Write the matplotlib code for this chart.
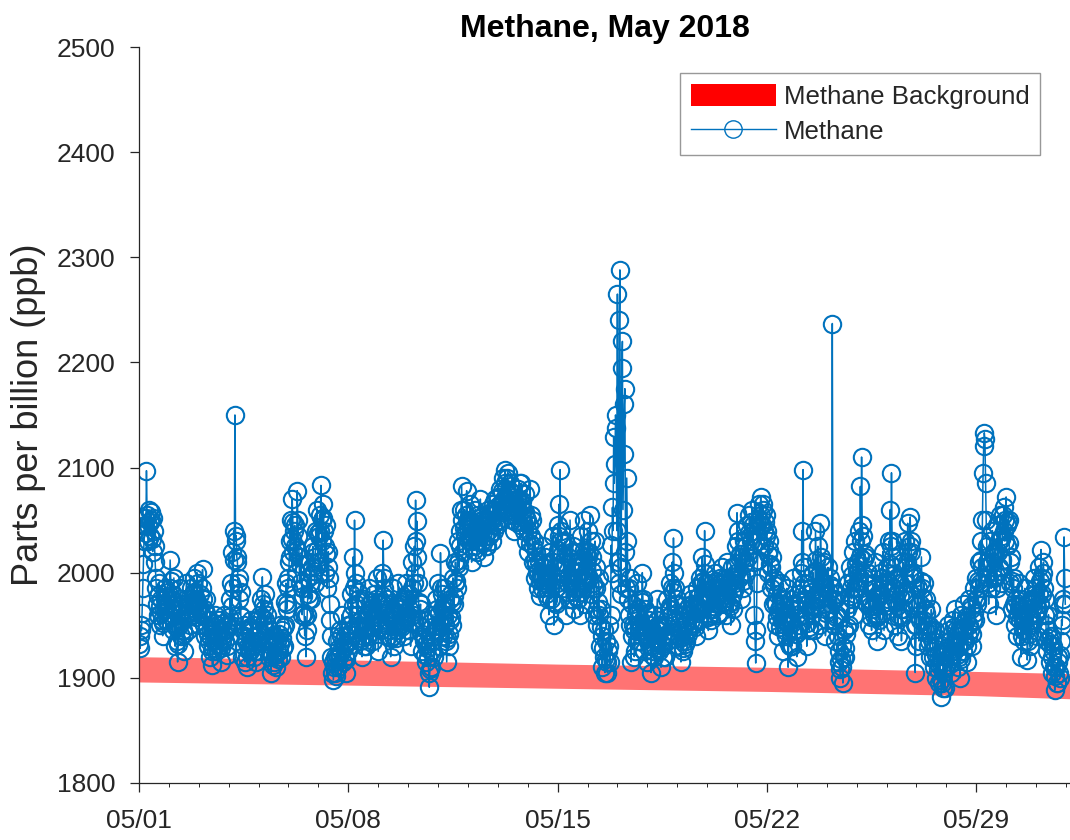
import numpy as np
import pandas as pd
import matplotlib
matplotlib.use("Agg")
import matplotlib.pyplot as plt
import matplotlib.dates as mdates
from matplotlib.patches import Patch
from matplotlib.lines import Line2D

plt.rcParams['font.family'] = ['Liberation Sans', 'DejaVu Sans']

# Half-hourly methane (ppb), one row per day of May 2018 starting at 00:00
may01 = [1932, 1940, 1928, 1950, 1945, 1962, 1985, 2008, 2030, 2045, 2052, 2038, 2097, 2055, 2045, 2030, 2060, 2048, 2035, 2058, 2050, 2032, 2020, 2052, 2040, 2025, 2010, 1995, 1985, 1970, 1960, 1978, 1990, 1968, 1950, 1962, 1975, 1955, 1940, 1952, 1965, 1975, 1985, 1968, 1955, 1978, 1970, 1982]
may02 = [1960, 1985, 2012, 1992, 1975, 1958, 1945, 1970, 1995, 1952, 1930, 1948, 1965, 1935, 1915, 1932, 1950, 1968, 1985, 1962, 1940, 1955, 1970, 1945, 1925, 1942, 1960, 1975, 1990, 1968, 1945, 1958, 1975, 1962, 1950, 1972, 1985, 1970, 1960, 1980, 1995, 1982, 1970, 1958, 1975, 2000, 1990, 1968]
may03 = [1950, 1968, 1980, 1962, 1960, 1985, 2003, 1975, 1965, 1950, 1940, 1962, 1975, 1948, 1930, 1942, 1955, 1935, 1920, 1938, 1945, 1925, 1912, 1928, 1935, 1952, 1960, 1940, 1925, 1945, 1950, 1932, 1930, 1955, 1945, 1928, 1915, 1935, 1940, 1952, 1960, 1942, 1935, 1950, 1945, 1922, 1930, 1950]
may04 = [1940, 1958, 1975, 1950, 1990, 1968, 2020, 1985, 2040, 2012, 2150, 2030, 2035, 2015, 2010, 1990, 1995, 1975, 1960, 1982, 1940, 1958, 1920, 1945, 1950, 1930, 1915, 1938, 1935, 1920, 1910, 1930, 1945, 1925, 1925, 1948, 1955, 1935, 1930, 1950, 1920, 1940, 1940, 1925, 1915, 1932, 1955, 1935]
may05 = [1925, 1945, 1960, 1942, 1975, 1958, 1996, 1970, 1950, 1965, 1980, 1955, 1935, 1950, 1960, 1938, 1920, 1935, 1945, 1925, 1905, 1922, 1930, 1912, 1915, 1932, 1940, 1922, 1910, 1925, 1935, 1918, 1925, 1942, 1950, 1932, 1920, 1938, 1945, 1928, 1930, 1948, 1950, 1972, 1990, 1965, 1970, 1995]
may06 = [1985, 2010, 2030, 2015, 2050, 2032, 2070, 2048, 2020, 2040, 2045, 2025, 2000, 2022, 2078, 2050, 2035, 2015, 1990, 2008, 2015, 1985, 1960, 1978, 1985, 1962, 1940, 1958, 1920, 1945, 1960, 1980, 1995, 1975, 2010, 1990, 1975, 1998, 2005, 2025, 2020, 2002, 1990, 2015, 2040, 2022, 2060, 2038]
may07 = [2010, 2035, 2055, 2040, 2083, 2050, 2030, 2052, 2065, 2040, 2000, 2025, 2045, 2018, 1985, 2005, 2020, 1995, 1970, 1955, 1940, 1920, 1905, 1915, 1898, 1910, 1920, 1905, 1902, 1918, 1935, 1920, 1910, 1928, 1945, 1922, 1925, 1940, 1960, 1935, 1915, 1928, 1940, 1920, 1905, 1918, 1935, 1950]
may08 = [1925, 1942, 1950, 1935, 1980, 1960, 1945, 1968, 2015, 1985, 2050, 2000, 1990, 1970, 1960, 1982, 1975, 1950, 1935, 1948, 1955, 1938, 1920, 1940, 1945, 1930, 1975, 1955, 1930, 1948, 1960, 1942, 1940, 1962, 1985, 1965, 1950, 1972, 1965, 1948, 1935, 1958, 1980, 1962, 1955, 1975, 1995, 1970]
may09 = [1925, 1948, 1970, 1952, 1945, 1972, 2000, 1978, 2031, 1995, 1985, 1965, 1950, 1968, 1975, 1955, 1940, 1958, 1965, 1945, 1920, 1938, 1955, 1940, 1985, 1962, 1930, 1950, 1960, 1938, 1945, 1968, 1990, 1970, 1950, 1965, 1970, 1948, 1955, 1972, 1975, 1958, 1940, 1962, 1990, 1975, 1960, 1980]
may10 = [1945, 1965, 1980, 1958, 1930, 1952, 2010, 1985, 1960, 1990, 2025, 2000, 2069, 2030, 2049, 2015, 1990, 1972, 1950, 1965, 1970, 1948, 1925, 1942, 1955, 1938, 1935, 1922, 1915, 1932, 1945, 1928, 1920, 1905, 1891, 1908, 1910, 1925, 1935, 1948, 1960, 1940, 1920, 1945, 1975, 1958, 1945, 1965]
may11 = [1990, 1962, 1930, 1952, 2019, 1985, 1965, 1980, 1940, 1958, 1985, 1968, 1950, 1935, 1915, 1938, 1960, 1942, 1930, 1955, 1975, 1958, 1950, 1972, 1995, 1978, 1970, 1990, 2010, 1992, 1985, 2008, 2030, 2012, 2005, 2025, 2040, 2060, 2082, 2050, 2020, 2042, 2060, 2038, 2035, 2055, 2078, 2048]
may12 = [2050, 2035, 2030, 2048, 2065, 2042, 2010, 2030, 2045, 2022, 2025, 2040, 2060, 2038, 2020, 2042, 2055, 2030, 2035, 2052, 2070, 2045, 2030, 2050, 2050, 2028, 2015, 2035, 2045, 2025, 2025, 2048, 2060, 2040, 2035, 2050, 2055, 2038, 2030, 2050, 2065, 2045, 2040, 2060, 2070, 2048, 2045, 2062]
may13 = [2060, 2072, 2050, 2065, 2080, 2058, 2060, 2078, 2090, 2068, 2070, 2085, 2098, 2080, 2075, 2090, 2095, 2070, 2060, 2078, 2085, 2062, 2050, 2068, 2075, 2055, 2040, 2058, 2065, 2048, 2055, 2070, 2080, 2060, 2070, 2085, 2045, 2062, 2085, 2068, 2060, 2048, 2040, 2058, 2075, 2052, 2030, 2050]
may14 = [2020, 2040, 2045, 2028, 2080, 2055, 2035, 2050, 2010, 2025, 2030, 2012, 1995, 2008, 2020, 2000, 1985, 2002, 2010, 1992, 1978, 1995, 2000, 1985, 2025, 2005, 1990, 2008, 2015, 1998, 1980, 1992, 1995, 1975, 1960, 1985, 2020, 1998, 1975, 1992, 2035, 2010, 1950, 1972, 2005, 1985, 1970, 1990]
may15 = [2045, 2022, 2065, 2035, 2098, 2030, 2040, 2018, 2010, 2028, 1985, 2005, 2030, 2008, 1960, 1982, 2015, 1990, 1975, 1998, 2050, 2020, 1990, 2010, 2025, 2002, 1965, 1985, 2005, 1978, 1985, 2000, 1975, 1995, 2010, 1985, 1960, 1982, 2035, 2008, 1990, 2015, 2050, 2022, 1970, 1992, 2020, 1998]
may16 = [2040, 2015, 1995, 2020, 2055, 2030, 1980, 2002, 2015, 1990, 1960, 1985, 2030, 2005, 1985, 1965, 1950, 1972, 1995, 1960, 1930, 1948, 1965, 1940, 1910, 1928, 1945, 1920, 1905, 1918, 1935, 1915, 1905, 1925, 1950, 1930, 1915, 1960, 2026, 2000, 2062, 2040, 2129, 2085, 2103, 2150, 2138, 2040]
may17 = [2265, 2010, 1990, 2240, 2288, 2005, 1980, 2195, 2220, 2060, 2113, 2160, 2175, 2020, 1985, 2090, 2030, 1975, 1960, 1985, 1995, 1950, 1915, 1940, 1970, 1950, 1945, 1920, 1925, 1948, 1960, 1935, 1990, 1965, 1935, 1958, 1975, 1945, 1950, 1972, 2000, 1975, 1925, 1948, 1965, 1942, 1940, 1962]
may18 = [1915, 1938, 1955, 1932, 1930, 1950, 1905, 1922, 1945, 1925, 1920, 1942, 1960, 1938, 1935, 1955, 1975, 1950, 1925, 1945, 1950, 1928, 1910, 1932, 1940, 1920, 1930, 1948, 1920, 1940, 1950, 1935, 1975, 1958, 1940, 1965, 1990, 1968, 1960, 1985, 2010, 1982, 2033, 2000, 1985, 1970, 1955, 1975]
may19 = [1970, 1948, 1930, 1952, 1960, 1938, 1915, 1935, 1945, 1928, 1925, 1940, 1950, 1932, 1935, 1955, 1965, 1942, 1945, 1968, 1980, 1960, 1955, 1975, 1970, 1952, 1950, 1968, 1965, 1948, 1940, 1962, 1985, 1965, 1955, 1978, 1995, 1972, 1970, 1990, 2015, 1992, 1980, 2000, 2040, 2008, 1990, 1970]
may20 = [1975, 1958, 1945, 1965, 1980, 1960, 1955, 1975, 1990, 1968, 1965, 1985, 2000, 1978, 1975, 1992, 1985, 1962, 1960, 1980, 1995, 1975, 1970, 1990, 2005, 1982, 1975, 1990, 1995, 1972, 1960, 1985, 2010, 1988, 1970, 1992, 1990, 1968, 1950, 1972, 2005, 1980, 1965, 1985, 1985, 2005, 2025, 2000]
may21 = [2057, 2030, 2040, 2015, 1995, 2018, 1975, 1998, 2015, 1992, 1985, 2008, 2030, 2010, 2000, 2025, 2045, 2020, 2015, 2038, 2055, 2035, 2030, 2048, 2060, 2045, 2040, 2010, 1960, 1935, 1914, 1945, 1990, 2012, 2030, 2050, 2065, 2045, 2072, 2055, 2045, 2065, 2060, 2040, 2025, 2048, 2055, 2035]
may22 = [2040, 2018, 2000, 2022, 2030, 2008, 1985, 2005, 2015, 1992, 1970, 1988, 1995, 1972, 1950, 1970, 1980, 1958, 1940, 1962, 1965, 1948, 1990, 1970, 1955, 1975, 1925, 1945, 1970, 1950, 1940, 1962, 1985, 1958, 1910, 1932, 1950, 1930, 1975, 1955, 1930, 1952, 1995, 1970, 1945, 1968, 1965, 1942]
may23 = [1920, 1945, 1980, 1958, 1950, 1972, 2000, 1985, 2040, 2010, 2098, 2005, 1990, 1975, 1960, 1980, 1930, 1952, 1970, 1948, 1945, 1965, 1985, 1968, 1960, 1982, 2000, 1975, 1945, 1968, 2040, 2012, 1980, 2002, 2025, 1998, 1950, 1975, 2047, 2015, 1990, 2008, 1970, 1990, 2010, 1985, 1940, 1962]
may24 = [1955, 1978, 2005, 1982, 1965, 1988, 1995, 1970, 1975, 2237, 1985, 1955, 1950, 1975, 1935, 1958, 1980, 1960, 1940, 1925, 1915, 1908, 1900, 1918, 1930, 1910, 1895, 1920, 1945, 1928, 1920, 1942, 1965, 1948, 1990, 1970, 1950, 1978, 2005, 1985, 1975, 1998, 2020, 1992, 1960, 1985, 2030, 2008]
may25 = [1985, 2002, 2010, 1992, 2040, 2015, 2082, 2030, 2110, 2045, 2035, 2012, 1995, 2018, 2015, 1990, 1970, 1988, 2000, 1975, 1950, 1968, 1975, 1958, 1945, 1965, 1990, 1968, 1960, 1985, 2010, 1975, 1935, 1958, 1980, 1960, 1955, 1978, 2000, 1980, 1970, 1995, 2020, 1990, 1945, 1968, 1990, 1972]
may26 = [2005, 1985, 1975, 2000, 2030, 2008, 2060, 2025, 2095, 2030, 2015, 1998, 1985, 2005, 1950, 1972, 1995, 1968, 1940, 1958, 1960, 1978, 1990, 1965, 1935, 1958, 2010, 1982, 1965, 1990, 2030, 2005, 1980, 2010, 2047, 2020, 2000, 2025, 2053, 2030, 2020, 2000, 1975, 1998, 1995, 1950, 1905, 1930]
may27 = [1950, 1968, 1985, 1960, 1935, 1955, 1970, 1992, 2015, 1985, 1955, 1975, 1990, 1965, 1945, 1962, 1975, 1950, 1930, 1945, 1950, 1935, 1920, 1942, 1965, 1945, 1935, 1920, 1910, 1928, 1945, 1922, 1900, 1915, 1930, 1908, 1895, 1912, 1915, 1898, 1882, 1895, 1905, 1890, 1925, 1908, 1890, 1912]
may28 = [1910, 1928, 1950, 1925, 1920, 1945, 1935, 1915, 1905, 1925, 1955, 1932, 1925, 1948, 1965, 1945, 1940, 1922, 1910, 1930, 1945, 1920, 1900, 1918, 1960, 1935, 1925, 1948, 1970, 1945, 1935, 1958, 1955, 1930, 1915, 1940, 1975, 1950, 1945, 1968, 1965, 1942, 1930, 1955, 1985, 1962, 1955, 1975]
may29 = [1995, 1975, 1970, 1992, 2010, 1985, 1990, 2012, 2030, 2005, 2050, 2095, 2120, 2133, 2127, 2085, 2050, 2025, 2010, 1990, 1970, 1995, 2030, 2008, 1985, 2010, 2040, 2018, 1995, 2015, 2020, 1998, 1960, 1985, 2045, 2020, 2005, 2030, 2055, 2032, 1990, 2012, 2035, 2055, 2040, 2062, 2030, 2050]
may30 = [2072, 2045, 2025, 2048, 2050, 2028, 1990, 2010, 2015, 1992, 1965, 1985, 1995, 1970, 1950, 1968, 1975, 1958, 1940, 1962, 1990, 1968, 1955, 1975, 1920, 1940, 1965, 1945, 1935, 1958, 1985, 1962, 1945, 1965, 1917, 1935, 1960, 1942, 1930, 1952, 1975, 1955, 1950, 1972, 1995, 1975, 1960, 1980]
may31 = [1985, 1962, 1940, 1965, 2005, 1980, 1970, 1992, 2022, 1995, 1980, 2000, 2010, 1985, 1960, 1975, 1950, 1935, 1925, 1945, 1960, 1938, 1915, 1932, 1940, 1920, 1905, 1925, 1930, 1910, 1888, 1902, 1910, 1895, 1895, 1915, 1920, 1905, 1900, 1922, 1935, 1955, 1950, 1970, 1975, 2034, 1995, 1970]

methane = (may01 + may02 + may03 + may04 + may05 + may06 + may07 + may08 + may09 + may10 +
           may11 + may12 + may13 + may14 + may15 + may16 + may17 + may18 + may19 + may20 +
           may21 + may22 + may23 + may24 + may25 + may26 + may27 + may28 + may29 + may30 +
           may31)
methane_time = pd.date_range('2018-05-01 00:00', periods=len(methane), freq='30min')

# Background band (ppb)
bg_dates = pd.to_datetime(['2018-05-01 00:00', '2018-05-08 00:00', '2018-05-15 00:00',
                           '2018-05-22 00:00', '2018-05-29 00:00', '2018-06-01 04:00'])
bg_lower = [1896, 1893, 1890, 1887, 1883, 1880]
bg_upper = [1920, 1917, 1913, 1910, 1906, 1904]

tick_dates = pd.to_datetime(['2018-05-01', '2018-05-08', '2018-05-15',
                             '2018-05-22', '2018-05-29'])
y_ticks = [1800, 1900, 2000, 2100, 2200, 2300, 2400, 2500]

x_start = pd.Timestamp('2018-05-01 00:00')
x_end = pd.Timestamp('2018-06-01 03:17')

fig = plt.figure(figsize=(10.7, 8.4), dpi=100)
ax = fig.add_axes([0.1299, 0.068, 0.8701, 0.876])

blue = '#0072BD'
axcol = '#262626'

ax.fill_between(bg_dates, bg_lower, bg_upper, color='#FF0000', alpha=0.55,
                linewidth=0, zorder=1)
ax.plot(methane_time, methane, '-o', color=blue, linewidth=1.1,
        markerfacecolor='none', markeredgecolor=blue, markersize=12.5,
        markeredgewidth=1.5, zorder=2)

ax.set_xlim(x_start, x_end)
ax.set_ylim(1800, 2500)
ax.set_yticks(y_ticks)
ax.set_xticks(tick_dates)
ax.xaxis.set_major_formatter(mdates.DateFormatter('%m/%d'))
ax.xaxis.set_minor_locator(mdates.DayLocator())

for s in ['top', 'right']:
    ax.spines[s].set_visible(False)
for s in ['left', 'bottom']:
    ax.spines[s].set_color(axcol)
    ax.spines[s].set_linewidth(0.9)

ax.tick_params(axis='both', which='major', direction='out', length=6.5, width=0.9,
               colors=axcol, labelsize=19)
ax.tick_params(axis='y', which='major', pad=10.5)
ax.tick_params(axis='x', which='major', pad=12)
ax.tick_params(axis='x', which='minor', direction='out', length=3, width=0.7,
               colors=axcol)

ax.set_ylabel('Parts per billion (ppb)', fontsize=26, color=axcol, labelpad=8)
ax.set_title('Methane, May 2018', fontsize=23, fontweight='bold', color='black', pad=7)

handles = [Patch(facecolor='#FF0000', edgecolor='none'),
           Line2D([], [], color=blue, linewidth=1.0, marker='o', markersize=12.5,
                  markerfacecolor='none', markeredgecolor=blue, markeredgewidth=1.0)]
leg = ax.legend(handles, ['Methane Background', 'Methane'], loc='upper right',
                bbox_to_anchor=(0.968, 0.965), borderaxespad=0, fontsize=18.6,
                frameon=True, fancybox=False, edgecolor='#7f7f7f',
                handlelength=3.3, handleheight=0.97, borderpad=0.42,
                labelspacing=0.38, handletextpad=0.3)
leg.get_frame().set_linewidth(1.0)
for t in leg.get_texts():
    t.set_color(axcol)

fig.savefig('out.png', dpi=100, facecolor='white')
